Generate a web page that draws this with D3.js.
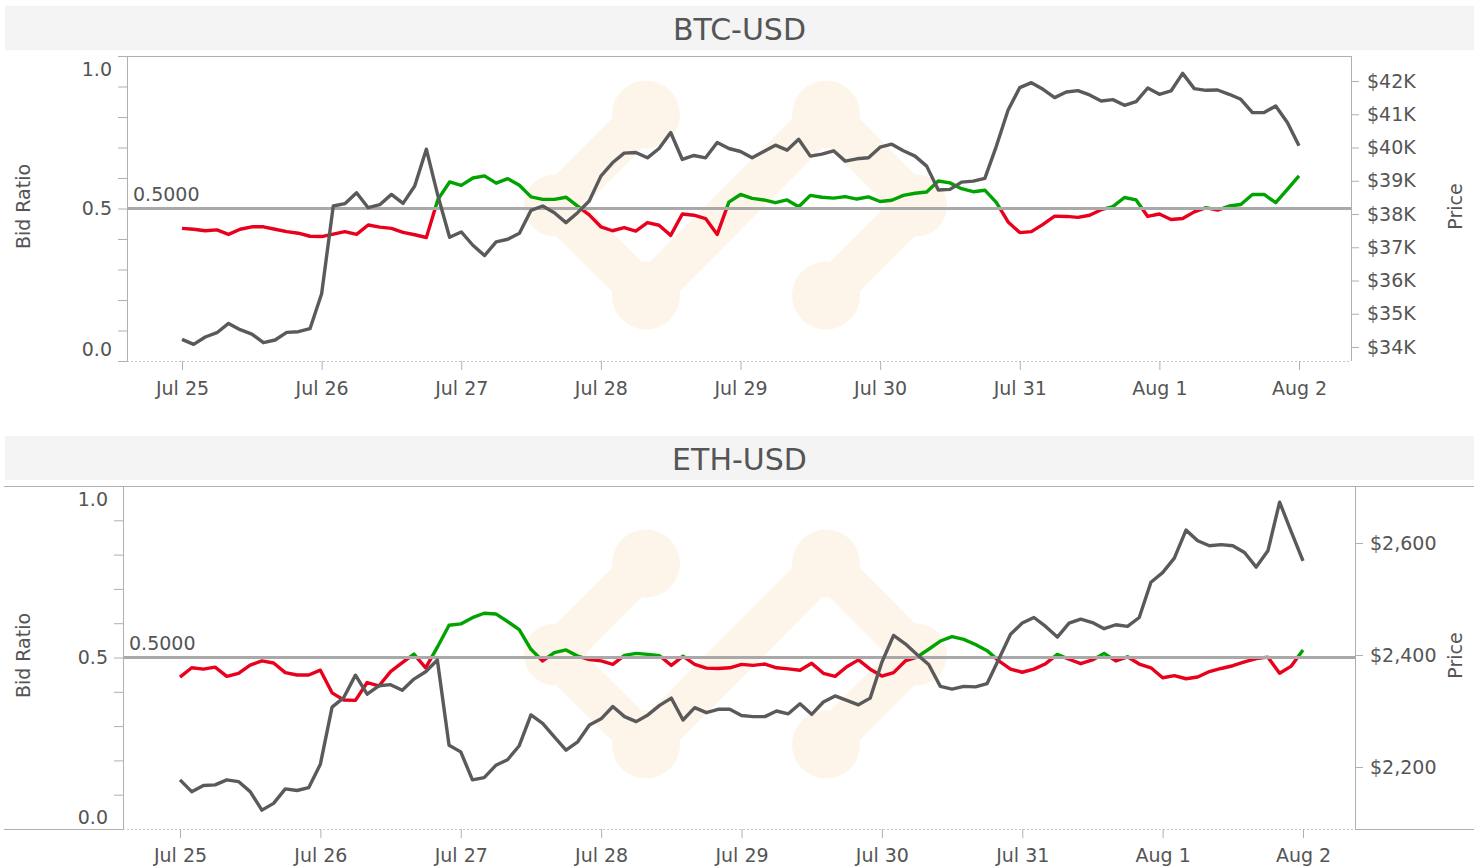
<!DOCTYPE html>
<html>
<head>
<meta charset="utf-8">
<script src="https://cdn.jsdelivr.net/npm/d3@7"></script>
<style>
  body { margin: 0; background: #fff; }
  svg { display: block; font-family: "DejaVu Sans", sans-serif; }
</style>
</head>
<body>
<svg id="chart" width="1479" height="866"></svg>
<script>
// x axis: one tick per day, samples every 2 hours from the first day
const dayLabels = ["2021-07-25", "2021-07-26", "2021-07-27", "2021-07-28", "2021-07-29",
  "2021-07-30", "2021-07-31", "2021-08-01", "2021-08-02"];
const sampleStart = "2021-07-25 00:00";
const sampleStepHours = 2;

const btcRatio = [
  0.435, 0.432, 0.427, 0.430, 0.415, 0.432, 0.440, 0.440, 0.432, 0.424,
  0.419, 0.409, 0.408, 0.416, 0.424, 0.415, 0.446, 0.439, 0.435, 0.422,
  0.414, 0.405, 0.530, 0.587, 0.576, 0.600, 0.607, 0.583, 0.598, 0.576,
  0.538, 0.530, 0.530, 0.537, 0.508, 0.479, 0.440, 0.427, 0.437, 0.426,
  0.454, 0.445, 0.412, 0.482, 0.478, 0.467, 0.415, 0.521, 0.546, 0.533,
  0.528, 0.519, 0.528, 0.506, 0.543, 0.537, 0.534, 0.539, 0.531, 0.538,
  0.523, 0.527, 0.543, 0.550, 0.554, 0.590, 0.584, 0.565, 0.555, 0.560,
  0.519, 0.456, 0.421, 0.424, 0.448, 0.475, 0.474, 0.471, 0.478, 0.496,
  0.506, 0.536, 0.528, 0.474, 0.482, 0.464, 0.467, 0.489, 0.503, 0.495,
  0.508, 0.513, 0.546, 0.546, 0.519, 0.563, 0.607
];
const btcPrice = [
  34230, 34080, 34300, 34430, 34710, 34520, 34390, 34130, 34210, 34440,
  34460, 34550, 35600, 38240, 38310, 38640, 38190, 38280, 38590, 38320,
  38840, 39950, 38540, 37300, 37460, 37060, 36750, 37160, 37240, 37420,
  38110, 38240, 38040, 37740, 38040, 38390, 39140, 39540, 39830, 39850,
  39690, 39970, 40450, 39640, 39760, 39690, 40150, 39970, 39880, 39690,
  39880, 40070, 39920, 40250, 39740, 39800, 39900, 39590, 39660, 39690,
  40010, 40100, 39900, 39740, 39440, 38720, 38740, 38960, 38990, 39070,
  40050, 41130, 41800, 41950, 41750, 41500, 41670, 41710, 41580, 41400,
  41440, 41270, 41380, 41790, 41600, 41700, 42230, 41770, 41720, 41730,
  41600, 41450, 41050, 41050, 41250, 40750, 40050
];
const ethRatio = [
  0.443, 0.470, 0.466, 0.472, 0.445, 0.454, 0.478, 0.490, 0.484, 0.456,
  0.449, 0.449, 0.463, 0.397, 0.376, 0.375, 0.427, 0.417, 0.459, 0.485,
  0.510, 0.470, 0.530, 0.594, 0.598, 0.616, 0.629, 0.627, 0.605, 0.581,
  0.524, 0.490, 0.514, 0.522, 0.504, 0.494, 0.490, 0.480, 0.506, 0.512,
  0.509, 0.505, 0.477, 0.504, 0.480, 0.469, 0.468, 0.470, 0.480, 0.477,
  0.481, 0.470, 0.467, 0.463, 0.483, 0.454, 0.445, 0.473, 0.493, 0.466,
  0.446, 0.456, 0.490, 0.501, 0.524, 0.548, 0.561, 0.553, 0.538, 0.520,
  0.490, 0.466, 0.457, 0.466, 0.482, 0.509, 0.495, 0.482, 0.493, 0.512,
  0.490, 0.502, 0.481, 0.470, 0.441, 0.447, 0.438, 0.443, 0.459, 0.468,
  0.476, 0.487, 0.497, 0.501, 0.454, 0.475, 0.522
];
const ethPrice = [
  2177, 2156, 2167, 2168, 2177, 2174, 2156, 2123, 2135, 2161,
  2158, 2163, 2205, 2307, 2324, 2364, 2330, 2345, 2347, 2337,
  2357, 2370, 2391, 2239, 2227, 2177, 2181, 2203, 2213, 2238,
  2293, 2278, 2254, 2230, 2245, 2275, 2286, 2308, 2290, 2281,
  2293, 2310, 2323, 2284, 2306, 2297, 2303, 2303, 2292, 2290,
  2290, 2300, 2295, 2313, 2294, 2316, 2327, 2319, 2311, 2323,
  2387, 2435, 2420, 2401, 2383, 2344, 2339, 2344, 2343, 2349,
  2393, 2437, 2457, 2467, 2451, 2432, 2457, 2464, 2458, 2447,
  2454, 2451, 2467, 2530, 2547, 2573, 2623, 2604, 2595, 2597,
  2595, 2583, 2557, 2586, 2673, 2620, 2568
];

const ratioTicks = [0, 0.1, 0.2, 0.3, 0.4, 0.5, 0.6, 0.7, 0.8, 0.9, 1];
const ratioLabels = [0, 0.5, 1];
const btcPriceTicks = [34000, 35000, 36000, 37000, 38000, 39000, 40000, 41000, 42000];
const ethPriceTicks = [2200, 2400, 2600];
const threshold = 0.5;

const parseDay = d3.timeParse("%Y-%m-%d");
const parseStamp = d3.timeParse("%Y-%m-%d %H:%M");
const dayDates = dayLabels.map(parseDay);
const t0 = parseStamp(sampleStart);

const GREEN = "#00a300", RED = "#e8001c", PRICE = "#5a5a5a";
const AXIS = "#b0b0b0", TEXT = "#555";

const panels = [
  {
    title: "BTC-USD", ratio: btcRatio, price: btcPrice, priceTicks: btcPriceTicks,
    priceFormat: d => "$" + d / 1000 + "K",
    band: 6, left: 127, right: 1351, top: 56, bottom: 361,
    xRange: [182, 1299], priceDomain: [34000, 42000], priceRange: [347, 81],
    xPad: 11.5, rightPad: 8, wide: false
  },
  {
    title: "ETH-USD", ratio: ethRatio, price: ethPrice, priceTicks: ethPriceTicks,
    priceFormat: d3.format("$,"),
    band: 436, left: 123, right: 1355, top: 486, bottom: 829,
    xRange: [180, 1303], priceDomain: [2200, 2600], priceRange: [767, 543],
    xPad: 10.5, rightPad: 7, wide: true
  }
];

const svg = d3.select("#chart");
const defs = svg.append("defs");

function styleAxis(g) {
  g.attr("font-family", null).attr("font-size", 19);
  g.selectAll(".tick line").attr("stroke", AXIS);
  g.selectAll(".domain").attr("stroke", AXIS);
  g.selectAll("text").attr("fill", TEXT);
}

panels.forEach((p, idx) => {
  const g = svg.append("g");
  const times = p.ratio.map((_, i) => d3.timeHour.offset(t0, i * sampleStepHours));

  const x = d3.scaleTime().domain([dayDates[0], dayDates[dayDates.length - 1]]).range(p.xRange);
  const yR = d3.scaleLinear().domain([0, 1]).range([p.bottom, p.top]);
  const yP = d3.scaleLinear().domain(p.priceDomain).range(p.priceRange);

  // title band
  g.append("rect")
    .attr("x", 5).attr("y", p.band).attr("width", 1469).attr("height", 44)
    .attr("fill", "#f4f4f4");
  g.append("text")
    .attr("x", 739.5).attr("y", p.band + 33.5)
    .attr("text-anchor", "middle").attr("font-size", 30).attr("fill", TEXT)
    .text(p.title);

  // clip for the plot area
  const clipId = "plot-clip-" + idx;
  defs.append("clipPath").attr("id", clipId).append("rect")
    .attr("x", p.left).attr("y", p.top)
    .attr("width", p.right - p.left).attr("height", p.bottom - p.top);

  // faint logo watermark in the middle of the plot
  const cx = (p.left + p.right) / 2 - 2, cy = (p.top + p.bottom) / 2 - 3;
  const nodes = {
    L: [cx - 182, cy], TL: [cx - 91, cy - 91], TR: [cx + 89, cy - 91],
    R: [cx + 179, cy], BR: [cx + 89, cy + 90], BL: [cx - 91, cy + 90]
  };
  const links = [["L", "TL"], ["L", "BL"], ["BL", "TR"], ["TR", "R"], ["R", "BR"]];
  const wm = g.append("g").attr("clip-path", `url(#${clipId})`);
  wm.selectAll("line").data(links).join("line")
    .attr("x1", d => nodes[d[0]][0]).attr("y1", d => nodes[d[0]][1])
    .attr("x2", d => nodes[d[1]][0]).attr("y2", d => nodes[d[1]][1])
    .attr("stroke", "#fdf5ea").attr("stroke-width", 42).attr("stroke-linecap", "round");
  wm.selectAll("circle").data(Object.keys(nodes)).join("circle")
    .attr("cx", k => nodes[k][0]).attr("cy", k => nodes[k][1])
    .attr("r", k => (k === "L" || k === "R") ? 31 : 34)
    .attr("fill", "#fdf5ea");

  // frame
  const frame = g.append("g").attr("stroke", AXIS).attr("stroke-width", 1).attr("fill", "none");
  const x0 = p.wide ? 4 : p.left, x1 = p.wide ? 1474 : p.right;
  frame.append("line").attr("x1", x0).attr("x2", x1).attr("y1", p.top + 0.5).attr("y2", p.top + 0.5);
  frame.append("line").attr("x1", p.right + 0.5).attr("x2", p.right + 0.5).attr("y1", p.top).attr("y2", p.bottom);
  if (p.wide) {
    frame.append("line").attr("x1", 4).attr("x2", p.left).attr("y1", p.bottom + 0.5).attr("y2", p.bottom + 0.5);
    frame.append("line").attr("x1", p.right).attr("x2", 1474).attr("y1", p.bottom + 0.5).attr("y2", p.bottom + 0.5);
  }
  frame.append("line")
    .attr("x1", p.left).attr("x2", p.right).attr("y1", p.bottom + 0.5).attr("y2", p.bottom + 0.5)
    .attr("stroke", "#c8c8c8").attr("stroke-dasharray", "2,2");

  // bid ratio line, green above the threshold and red below it
  const gradId = "ratio-grad-" + idx;
  const off = (yR(threshold) - yR(1)) / (yR(0) - yR(1));
  const grad = defs.append("linearGradient").attr("id", gradId)
    .attr("gradientUnits", "userSpaceOnUse")
    .attr("x1", 0).attr("x2", 0).attr("y1", yR(1)).attr("y2", yR(0));
  grad.append("stop").attr("offset", off).attr("stop-color", GREEN);
  grad.append("stop").attr("offset", off).attr("stop-color", RED);

  const ratioLine = d3.line().x((d, i) => x(times[i])).y(d => yR(d));
  g.append("path").datum(p.ratio)
    .attr("clip-path", `url(#${clipId})`)
    .attr("d", ratioLine)
    .attr("fill", "none").attr("stroke", `url(#${gradId})`)
    .attr("stroke-width", 3.4).attr("stroke-linejoin", "round");

  // threshold line and its label
  g.append("line")
    .attr("x1", p.left).attr("x2", p.right)
    .attr("y1", yR(threshold)).attr("y2", yR(threshold))
    .attr("stroke", "#a9a9a9").attr("stroke-width", 3);
  g.append("text")
    .attr("x", p.left + 6).attr("y", yR(threshold) - 8)
    .attr("font-size", 19).attr("fill", TEXT)
    .text(d3.format(".4f")(threshold));

  // price line
  const priceLine = d3.line().x((d, i) => x(times[i])).y(d => yP(d));
  g.append("path").datum(p.price)
    .attr("clip-path", `url(#${clipId})`)
    .attr("d", priceLine)
    .attr("fill", "none").attr("stroke", PRICE)
    .attr("stroke-width", 3.4).attr("stroke-linejoin", "round");

  // left axis (bid ratio)
  const la = g.append("g")
    .attr("transform", `translate(${p.left},0)`)
    .call(d3.axisLeft(yR).tickValues(ratioTicks).tickSize(9).tickSizeOuter(0).tickPadding(6)
      .tickFormat(d => ratioLabels.includes(d) ? d3.format(".1f")(d) : ""));
  styleAxis(la);
  la.selectAll(".tick text").attr("y", d => d === 1 ? 13 : d === 0 ? -12 : 0);

  // bottom axis (days)
  const ba = g.append("g")
    .attr("transform", `translate(0,${p.bottom})`)
    .call(d3.axisBottom(x).tickValues(dayDates).tickFormat(d3.timeFormat("%b %-d"))
      .tickSize(9).tickSizeOuter(0).tickPadding(p.xPad));
  styleAxis(ba);
  ba.select(".domain").remove();

  // right axis (price)
  const ra = g.append("g")
    .attr("transform", `translate(${p.right},0)`)
    .call(d3.axisRight(yP).tickValues(p.priceTicks).tickFormat(p.priceFormat)
      .tickSize(8).tickPadding(p.rightPad));
  styleAxis(ra);
  ra.select(".domain").remove();

  // axis titles
  const midY = (p.top + p.bottom) / 2 - 2;
  g.append("text")
    .attr("transform", `translate(23,${midY}) rotate(-90)`)
    .attr("text-anchor", "middle").attr("dy", "0.35em")
    .attr("font-size", 19).attr("fill", TEXT)
    .text("Bid Ratio");
  g.append("text")
    .attr("transform", `translate(1455,${midY}) rotate(-90)`)
    .attr("text-anchor", "middle").attr("dy", "0.35em")
    .attr("font-size", 19).attr("fill", TEXT)
    .text("Price");
});
</script>
</body>
</html>
